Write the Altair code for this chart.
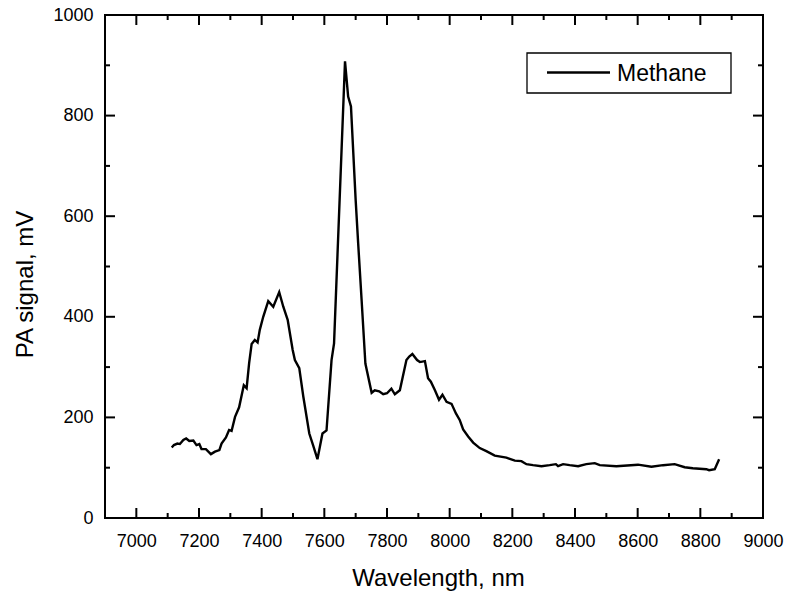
import altair as alt
import pandas as pd

# ---- data ----
wavelength = [7113, 7120, 7131, 7139, 7150, 7159, 7169, 7182, 7192, 7201, 7208, 7222, 7238, 7251,
              7265, 7272, 7286, 7296, 7304, 7315, 7328, 7343, 7352, 7360, 7368, 7378, 7387, 7394,
              7405, 7421, 7437, 7456, 7469, 7483, 7499, 7506, 7520, 7533, 7552, 7564, 7578, 7594,
              7607, 7623, 7631, 7666, 7676, 7685, 7700, 7708, 7719, 7731, 7751, 7761, 7775, 7788,
              7800, 7814, 7825, 7841, 7862, 7871, 7881, 7896, 7905, 7921, 7931, 7940, 7953, 7966,
              7977, 7990, 8006, 8020, 8032, 8043, 8059, 8075, 8096, 8117, 8144, 8181, 8208, 8229,
              8245, 8266, 8293, 8319, 8339, 8346, 8362, 8383, 8410, 8436, 8463, 8479, 8532, 8601,
              8644, 8681, 8718, 8750, 8776, 8819, 8828, 8846, 8860]
signal = [140, 145, 148, 147, 155, 158, 153, 154, 145, 147, 137, 137, 127, 132,
          135, 148, 160, 175, 173, 201, 220, 264, 258, 308, 346, 354, 349, 374,
          400, 431, 420, 449, 420, 394, 334, 314, 298, 241, 168, 145, 117, 168,
          174, 314, 347, 908, 838, 818, 632, 546, 433, 307, 249, 254, 252, 246,
          248, 257, 246, 254, 314, 321, 326, 314, 310, 312, 278, 271, 254, 235,
          245, 231, 227, 208, 195, 176, 162, 150, 139, 133, 124, 120, 114, 113,
          107, 105, 103, 105, 107, 103, 107, 105, 103, 107, 109, 105, 103, 106,
          102, 105, 107, 101, 99, 97, 95, 97, 117]
series_name = ["Methane"]

x_ticks_major = [7000, 7200, 7400, 7600, 7800, 8000, 8200, 8400, 8600, 8800, 9000]
x_ticks_minor = [7100, 7300, 7500, 7700, 7900, 8100, 8300, 8500, 8700, 8900]
y_ticks_major = [0, 200, 400, 600, 800, 1000]
y_ticks_minor = [100, 300, 500, 700, 900]

X_DOMAIN = [6900, 9000]
Y_DOMAIN = [0, 1000]

W, H = 658, 503
FONT = "Liberation Sans"

df = pd.DataFrame({"nm": wavelength, "mV": signal})

xs = alt.Scale(domain=X_DOMAIN, nice=False, zero=False)
ys = alt.Scale(domain=Y_DOMAIN, nice=False, zero=False)

line = alt.Chart(df).mark_line(strokeWidth=2.4, color="black").encode(
    x=alt.X("nm:Q", scale=xs,
            axis=alt.Axis(title="Wavelength, nm", values=x_ticks_major, format="d",
                          ticks=False, domain=False, grid=False, labelFlush=False,
                          labelOverlap=False,
                          labelFontSize=18, labelPadding=14, labelColor="black",
                          titleFontSize=24, titleFontWeight="normal", titleColor="black",
                          titleX=333, titleY=67, titleBaseline="alphabetic", titleAlign="center")),
    y=alt.Y("mV:Q", scale=ys,
            axis=alt.Axis(title="PA signal, mV", values=y_ticks_major, format="d",
                          ticks=False, domain=False, grid=False, labelFlush=False,
                          labelOverlap=False,
                          labelFontSize=18, labelPadding=12, labelColor="black",
                          titleFontSize=24, titleFontWeight="normal", titleColor="black",
                          titleAngle=-90, titleX=-73, titleY=269,
                          titleBaseline="alphabetic", titleAlign="center")),
)

def hticks(vals, length, top):
    d = pd.DataFrame({"nm": vals})
    if top:
        return alt.Chart(d).mark_rule(color="black", strokeWidth=2).encode(
            x=alt.X("nm:Q", scale=xs), y=alt.value(0), y2=alt.value(length))
    return alt.Chart(d).mark_rule(color="black", strokeWidth=2).encode(
        x=alt.X("nm:Q", scale=xs), y=alt.value(H), y2=alt.value(H - length))

def vticks(vals, length, right):
    d = pd.DataFrame({"mV": vals})
    if right:
        return alt.Chart(d).mark_rule(color="black", strokeWidth=2).encode(
            y=alt.Y("mV:Q", scale=ys), x=alt.value(W), x2=alt.value(W - length))
    return alt.Chart(d).mark_rule(color="black", strokeWidth=2).encode(
        y=alt.Y("mV:Q", scale=ys), x=alt.value(0), x2=alt.value(length))

tick_layers = [
    hticks(x_ticks_major, 10, False), hticks(x_ticks_minor, 5, False),
    hticks(x_ticks_major, 10, True), hticks(x_ticks_minor, 5, True),
    vticks(y_ticks_major, 10, False), vticks(y_ticks_minor, 5, False),
    vticks(y_ticks_major, 10, True), vticks(y_ticks_minor, 5, True),
]

# legend box (decoration), keyed on the series name
leg_df = pd.DataFrame({"series": series_name})
leg_box = alt.Chart(leg_df).mark_rect(fill="white", stroke="black", strokeWidth=1.3).encode(
    x=alt.value(422), x2=alt.value(626), y=alt.value(38), y2=alt.value(78))
leg_line = alt.Chart(leg_df).mark_rule(color="black", strokeWidth=2.4).encode(
    x=alt.value(442), x2=alt.value(505), y=alt.value(57.5))
leg_text = alt.Chart(leg_df).mark_text(align="left", baseline="middle", fontSize=23,
                                       font=FONT, color="black").encode(
    x=alt.value(512), y=alt.value(58.5), text="series:N")

chart = alt.layer(line, *tick_layers, leg_box, leg_line, leg_text).properties(
    width=W, height=H,
    autosize=alt.AutoSizeParams(type="none"),
    padding={"left": 105, "top": 15, "right": 26, "bottom": 76},
    background="white",
).configure(
    font=FONT
).configure_view(stroke="black", strokeWidth=2).configure_axis(
    labelFont=FONT, titleFont=FONT)

chart.save("out.html", embed_options={"renderer": "svg", "actions": False})
